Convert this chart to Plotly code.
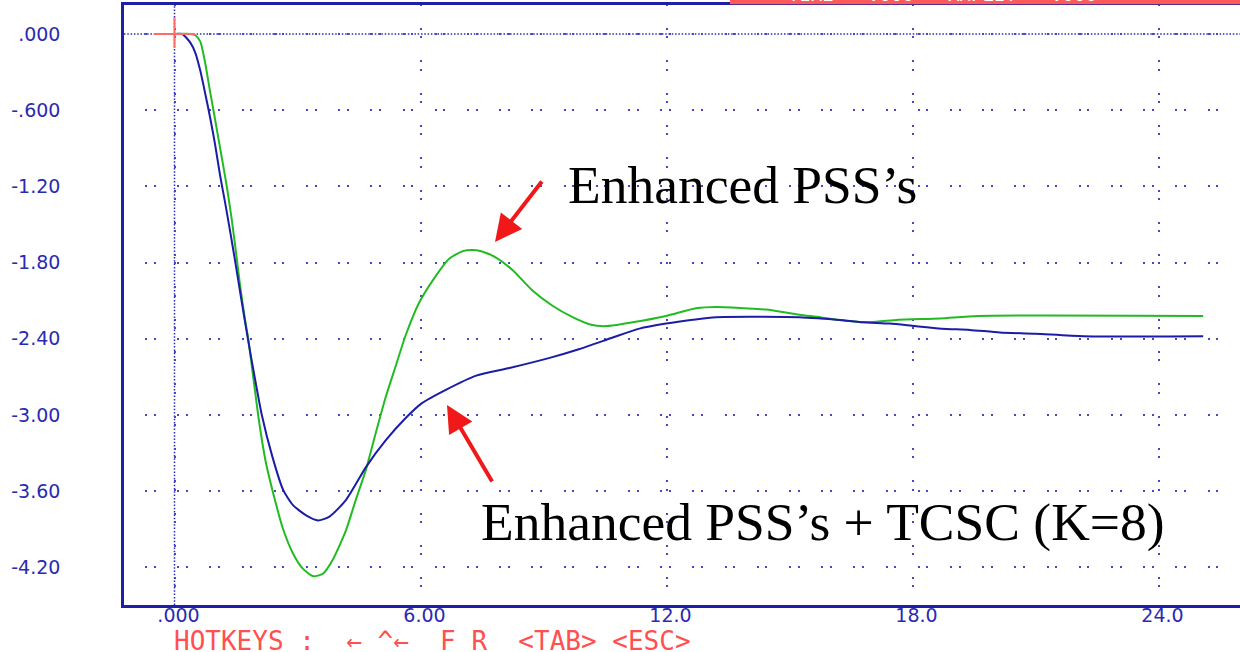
import plotly.graph_objects as go

# ---------------- data ----------------
t_pss = [0.0, 0.40, 0.51, 0.63, 0.75, 0.85, 0.95, 1.07, 1.19, 1.29, 1.40, 1.50, 1.60,
         1.72, 1.80, 2.04, 2.22, 2.45, 2.65, 2.89, 3.13, 3.38, 3.62, 3.86, 4.18,
         4.42, 4.67, 4.91, 5.15, 5.39, 5.63, 5.96, 6.30, 6.70, 7.03, 7.25, 7.48,
         7.84, 8.25, 8.73, 9.22, 9.71, 10.16, 10.53, 11.17, 11.99, 12.72, 13.21,
         13.90, 14.43, 15.24, 15.75, 16.15, 16.96, 17.65, 18.67, 19.60, 25.09]
v_pss = [0.0, 0.0, -0.01, -0.06, -0.23, -0.42, -0.60, -0.82, -1.04, -1.23, -1.47, -1.72, -1.98,
         -2.25, -2.40, -3.00, -3.36, -3.67, -3.90, -4.09, -4.21, -4.27, -4.25, -4.14, -3.91,
         -3.67, -3.43, -3.14, -2.86, -2.62, -2.38, -2.12, -1.94, -1.77, -1.71, -1.70, -1.71,
         -1.76, -1.86, -2.02, -2.14, -2.23, -2.29, -2.30, -2.27, -2.22, -2.16, -2.15,
         -2.16, -2.17, -2.21, -2.23, -2.25, -2.27, -2.25, -2.24, -2.22, -2.22]

t_tcsc = [0.0, 0.19, 0.39, 0.51, 0.63, 0.75, 0.87, 0.99, 1.11, 1.23, 1.36, 1.48, 1.60,
          1.79, 1.96, 2.13, 2.38, 2.65, 2.89, 3.21, 3.50, 3.78, 4.18, 4.67, 5.15, 5.65,
          6.02, 6.63, 7.36, 8.17, 9.15, 9.88, 10.69, 11.34, 11.99, 12.64, 13.21,
          15.24, 15.75, 16.15, 16.80, 17.45, 18.06, 18.71, 19.40, 20.13, 20.99,
          22.17, 25.09]
v_tcsc = [0.0, 0.0, -0.07, -0.15, -0.29, -0.47, -0.66, -0.87, -1.11, -1.32, -1.56, -1.79, -2.03,
          -2.40, -2.71, -3.00, -3.32, -3.59, -3.71, -3.79, -3.83, -3.80, -3.67, -3.41, -3.20, -3.02,
          -2.91, -2.80, -2.69, -2.63, -2.55, -2.48, -2.39, -2.32, -2.28, -2.25, -2.23,
          -2.23, -2.24, -2.25, -2.27, -2.28, -2.30, -2.32, -2.33, -2.35, -2.36,
          -2.38, -2.38]

x_tick_vals = [0, 6, 12, 18, 24]
x_tick_text = [".000", "6.00", "12.0", "18.0", "24.0"]
y_tick_vals = [0, -0.6, -1.2, -1.8, -2.4, -3.0, -3.6, -4.2]
y_tick_text = [".000", "-.600", "-1.20", "-1.80", "-2.40", "-3.00", "-3.60", "-4.20"]

label_pss = "Enhanced PSS\u2019s"
label_tcsc = "Enhanced PSS\u2019s + TCSC (K=8)"
hotkeys_text = "HOTKEYS :  \u2190 ^\u2190  F R  &lt;TAB&gt; &lt;ESC&gt;"
status_text = "TIME = .000   AMPLIT = .000"

# ---------------- layout geometry ----------------
W, H = 1240, 652
ML, MT, MB = 124, 5, 47
X0PX, XS = 174.5, 41.0     # pixel of t = 0 and pixels per unit
Y0PX, YS = 34.0, 127.0     # pixel of v = 0 and pixels per unit
PW, PH = W - ML, H - MT - MB


def dx(px):
    return (px - X0PX) / XS


def dy(py):
    return -(py - Y0PX) / YS


def pxx(px):
    return (px - ML) / PW


def pxy(py):
    return (H - MB - py) / PH


BLUE_TXT = "#2a2ab2"
GRID = "#4646c8"
FRAME = "#1e1ea6"

fig = go.Figure()
fig.add_trace(go.Scatter(x=t_pss, y=v_pss, mode="lines", name=label_pss,
                         line=dict(color="#22bb22", width=2, shape="spline", smoothing=0.6)))
fig.add_trace(go.Scatter(x=t_tcsc, y=v_tcsc, mode="lines", name=label_tcsc,
                         line=dict(color="#1c1ca6", width=2, shape="spline", smoothing=0.6)))

shapes = [
    # dense dotted reference lines at t=0 and v=0
    dict(type="line", xref="paper", yref="y", x0=0, x1=1, y0=0, y1=0,
         line=dict(color="#2a2ab8", width=1.5, dash="1.5px,1.8px"), layer="below"),
    dict(type="line", xref="x", yref="paper", x0=0, x1=0, y0=0, y1=1,
         line=dict(color="#2a2ab8", width=1.5, dash="1.5px,1.8px"), layer="below"),
    # red cursor cross
    dict(type="line", xref="x", yref="y", x0=dx(154), x1=dx(195), y0=0, y1=0,
         line=dict(color="#ff6a6a", width=2)),
    dict(type="line", xref="x", yref="y", x0=0, x1=0, y0=dy(17), y1=dy(48),
         line=dict(color="#ff6a6a", width=2)),
    # red status bar at the very top
    dict(type="rect", xref="paper", yref="paper", x0=pxx(730), x1=pxx(1240),
         y0=pxy(4.3), y1=pxy(-2), fillcolor="#ff5a5a", line=dict(width=0)),
]

annotations = [
    dict(text=label_pss, xref="x", yref="y", x=dx(566), y=dy(184.5), xanchor="left",
         yanchor="middle", showarrow=False,
         font=dict(family="Liberation Serif, Times New Roman, serif", size=53.5, color="#000000")),
    dict(text=label_tcsc, xref="x", yref="y", x=dx(479), y=dy(521.5), xanchor="left",
         yanchor="middle", showarrow=False,
         font=dict(family="Liberation Serif, Times New Roman, serif", size=53.5, color="#000000")),
    dict(text="", xref="x", yref="y", x=dx(495), y=dy(242), ax=48, ay=-62,
         showarrow=True, arrowhead=2, arrowsize=1.35, arrowwidth=4, arrowcolor="#f01818",
         standoff=0),
    dict(text="", xref="x", yref="y", x=dx(447), y=dy(405), ax=46, ay=78,
         showarrow=True, arrowhead=2, arrowsize=1.35, arrowwidth=4, arrowcolor="#f01818",
         standoff=0),
    dict(text=hotkeys_text, xref="paper", yref="paper", x=pxx(172), y=pxy(641),
         xanchor="left", yanchor="middle", showarrow=False,
         font=dict(family="DejaVu Sans Mono, monospace", size=26, color="#ff5050")),
    dict(text=status_text, xref="paper", yref="paper", x=pxx(786), y=pxy(7),
         xanchor="left", yanchor="bottom", showarrow=False,
         font=dict(family="DejaVu Sans Mono, monospace", size=19, color="#ffffff")),
]

fig.update_layout(
    width=W, height=H,
    margin=dict(l=ML, r=0, t=MT, b=MB, pad=0),
    paper_bgcolor="white", plot_bgcolor="white",
    showlegend=False,
    shapes=shapes, annotations=annotations,
    xaxis=dict(range=[dx(ML), dx(W)], tickvals=x_tick_vals, ticktext=x_tick_text,
               showgrid=True, gridcolor=GRID, gridwidth=2,
               griddash="1px,22px,2px,6.3px,1px,0px", zeroline=False,
               showline=True, mirror=True, linecolor=FRAME, linewidth=2.5,
               ticks="", ticklabelshift=4, ticklabelstandoff=-9,
               tickfont=dict(family="DejaVu Sans, sans-serif", size=19, color=BLUE_TXT)),
    yaxis=dict(range=[dy(H - MB), dy(MT)], tickvals=y_tick_vals, ticktext=y_tick_text,
               showgrid=True, gridcolor=GRID, gridwidth=2,
               griddash="0px,21px,2px,6.5px,2px,0.7px", zeroline=False,
               showline=True, mirror=False, linecolor=FRAME, linewidth=2.5,
               ticks="", ticklabelstandoff=57,
               tickfont=dict(family="DejaVu Sans, sans-serif", size=19, color=BLUE_TXT)),
)

fig.write_html("out.html", config={"displayModeBar": False},
               post_script="document.body.style.margin='0';document.body.style.overflow='hidden';")
